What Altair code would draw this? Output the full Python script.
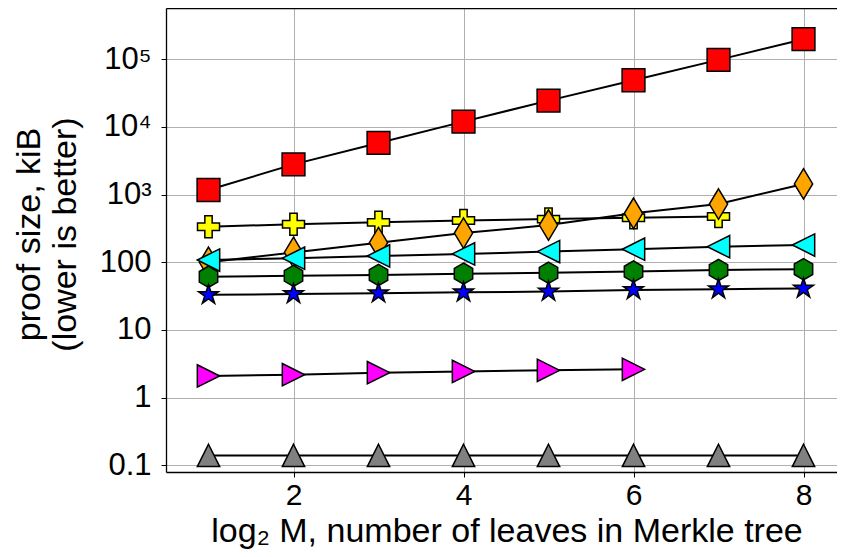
import altair as alt
import pandas as pd

# ---- data ----
x_values = [1, 2, 3, 4, 5, 6, 7, 8]
red_squares = [1170, 2800, 5800, 12000, 24500, 49000, 98000, 198000]
yellow_plus = [335, 365, 390, 415, 435, 455, 475]
orange_diamonds = [100, 140, 195, 270, 355, 530, 725, 1440]
cyan_left = [108, 115, 124, 133, 144, 156, 170, 180]
green_hexagons = [61, 63, 65, 68, 70, 73, 77, 79]
blue_stars = [33, 34, 35, 36, 37, 39, 40, 41]
magenta_right = [2.09, 2.18, 2.34, 2.44, 2.53, 2.62]
gray_up = [0.14, 0.14, 0.14, 0.14, 0.14, 0.14, 0.14, 0.14]

x_tick_values = [2, 4, 6, 8]
y_tick_values = [0.1, 1, 10, 100, 1000, 10000, 100000]
y_tick_labels = ["0.1", "1", "10", "100", "10³", "10⁴", "10⁵"]

x_title = "log₂ M, number of leaves in Merkle tree"
y_title = ["proof size, kiB", "(lower is better)"]

# ---- marker shapes (unit box -1..1) ----
SQUARE = "M-1,-1L1,-1L1,1L-1,1Z"
PLUS = ("M-0.333,-1L0.333,-1L0.333,-0.333L1,-0.333L1,0.333L0.333,0.333"
        "L0.333,1L-0.333,1L-0.333,0.333L-1,0.333L-1,-0.333L-0.333,-0.333Z")
THIN_DIAMOND = "M0,-1L0.6,0L0,1L-0.6,0Z"
TRI_LEFT = "M-1,0L1,-1L1,1Z"
TRI_RIGHT = "M1,0L-1,-1L-1,1Z"
TRI_UP = "M0,-1L1,1L-1,1Z"
HEXAGON = "M0,-1L0.866,-0.5L0.866,0.5L0,1L-0.866,0.5L-0.866,-0.5Z"
STAR = ("M0,-1L0.2245,-0.309L0.951,-0.309L0.363,0.118L0.588,0.809L0,0.382"
        "L-0.588,0.809L-0.363,0.118L-0.951,-0.309L-0.2245,-0.309Z")

series = [
    ("red", red_squares, "#ff0000", SQUARE, 520),
    ("yellow", yellow_plus, "#ffff00", PLUS, 484),
    ("orange", orange_diamonds, "#ffa500", THIN_DIAMOND, 930),
    ("cyan", cyan_left, "#00ffff", TRI_LEFT, 500),
    ("green", green_hexagons, "#008000", HEXAGON, 450),
    ("blue", blue_stars, "#0000ff", STAR, 440),
    ("magenta", magenta_right, "#ff00ff", TRI_RIGHT, 500),
    ("gray", gray_up, "#808080", TRI_UP, 500),
]

FONT = "Liberation Sans"
PLOT_W, PLOT_H = 671, 464

label_expr = " : ".join(
    f"datum.value == {v} ? '{l}'" for v, l in zip(y_tick_values, y_tick_labels)
) + " : ''"

x_scale = alt.Scale(domain=[0.5, 8.394], nice=False, zero=False)
y_scale = alt.Scale(type="log", domain=[0.0796, 572800], nice=False, zero=False)

x_enc = alt.X(
    "x:Q",
    scale=x_scale,
    axis=alt.Axis(
        orient="bottom",
        values=x_tick_values,
        format="d",
        labelFontSize=30,
        labelPadding=3,
        tickSize=5,
        grid=True,
        domain=True,
        title=x_title,
        titleFontSize=34,
        titleFontWeight="normal",
        titleBaseline="alphabetic",
        titleY=69,
        titleX=PLOT_W / 2 + 5,
    ),
)
y_enc = alt.Y(
    "y:Q",
    scale=y_scale,
    axis=alt.Axis(
        orient="left",
        values=y_tick_values,
        labelExpr=label_expr,
        labelFontSize=31,
        labelPadding=10,
        tickSize=5,
        grid=True,
        domain=True,
        title=y_title,
        titleFontSize=34,
        titleFontWeight="normal",
        titleLineHeight=36,
        titleAngle=270,
        titleAlign="center",
        titleBaseline="middle",
        titleX=-137,
        titleY=226,
    ),
)

layers = []
for name, vals, color, shape, size in series:
    df = pd.DataFrame({"x": x_values[: len(vals)], "y": vals, "series": name})
    base = alt.Chart(df)
    layers.append(
        base.mark_line(color="black", strokeWidth=2).encode(x=x_enc, y=y_enc)
    )
    layers.append(
        base.mark_point(
            shape=shape,
            filled=True,
            fill=color,
            stroke="black",
            strokeWidth=1.5,
            size=size,
            opacity=1,
        ).encode(x=x_enc, y=y_enc)
    )

main = alt.layer(*layers)

# top frame line via a top axis showing only its domain
top_df = pd.DataFrame({"x": x_values, "y": red_squares})
top_frame = (
    alt.Chart(top_df)
    .mark_point(opacity=0)
    .encode(
        x=alt.X(
            "x:Q",
            scale=x_scale,
            axis=alt.Axis(
                orient="top", labels=False, ticks=False, grid=False,
                title=None, domain=True,
            ),
        ),
        y=alt.Y("y:Q", scale=y_scale, axis=None),
    )
)

chart = (
    alt.layer(main, top_frame)
    .resolve_axis(x="independent", y="independent")
    .properties(
        width=PLOT_W,
        height=PLOT_H,
        autosize=alt.AutoSizeParams(type="none"),
        padding={"left": 158, "top": 0, "right": 0, "bottom": 77},
        background="white",
    )
    .configure_view(stroke=None)
    .configure_axis(
        labelFont=FONT,
        titleFont=FONT,
        labelColor="black",
        titleColor="black",
        tickColor="black",
        tickWidth=1,
        domainColor="black",
        domainWidth=1.3,
        gridColor="#b0b0b0",
        gridWidth=1,
    )
)

chart.save("out.html", embed_options={"renderer": "svg", "actions": False})
